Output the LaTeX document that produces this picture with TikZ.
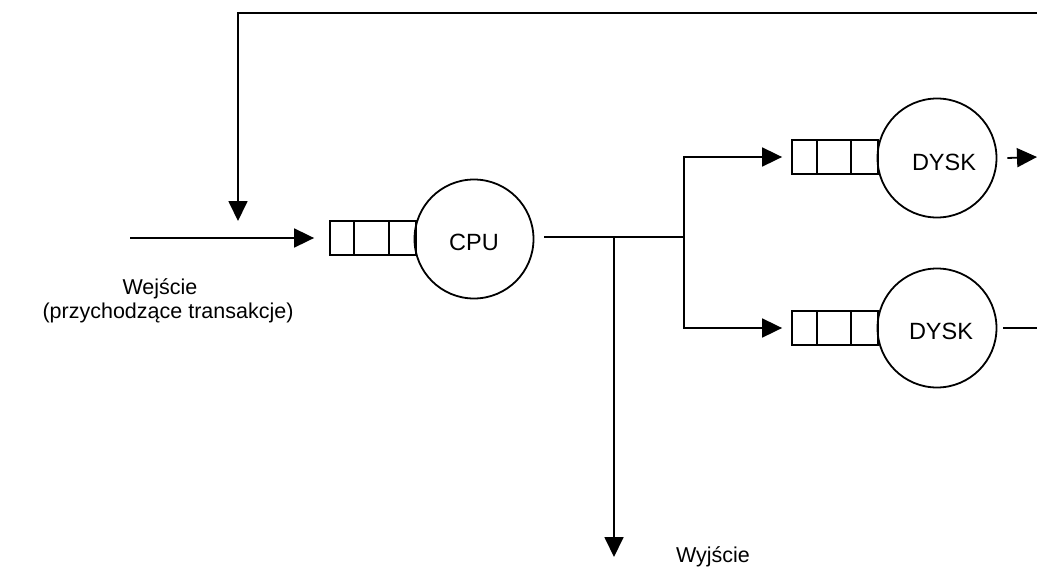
\documentclass[tikz,border=0pt]{standalone}
\usepackage{fontspec}
\setmainfont{Liberation Sans}
\usetikzlibrary{arrows.meta}
\begin{document}
\begin{tikzpicture}[x=1pt,y=-1pt,line width=1.8pt,
  arr/.style={-{Triangle[length=20pt,width=19pt]}},
  server/.style={circle,draw,minimum size=119pt,inner sep=0pt},
  queuebox/.style={draw,minimum width=86pt,minimum height=34pt,inner sep=0pt},
  srvtext/.style={font=\fontsize{23.5}{27}\selectfont,inner sep=0pt},
  lbl/.style={font=\fontsize{21.5}{25}\selectfont,align=center,inner sep=0pt}]
\useasboundingbox (0,0) rectangle (1037,571);
% CPU
\node[queuebox] (qcpu) at (373,238) {};
\draw (354,221) -- (354,255) (389,221) -- (389,255);
\node[server] (cpu) at (474,239) {};
\node[srvtext] (cpul) at (474,242) {CPU};
% disks
\node[queuebox] (qd1) at (835,157) {};
\draw (817,140) -- (817,174) (851,140) -- (851,174);
\node[server] (d1) at (937,158) {};
\node[srvtext] (d1l) at (944,162) {DYSK};
\node[queuebox] (qd2) at (835,328) {};
\draw (817,311) -- (817,345) (851,311) -- (851,345);
\node[server] (d2) at (937,328) {};
\node[srvtext] (d2l) at (941,331) {DYSK};
% coordinates
\coordinate (in) at (130,238);
\coordinate (fbs) at (1037,13);
\coordinate (fbe) at (238,221);
\coordinate (j1) at (614,237);
\coordinate (j2) at (684,237);
\coordinate (out) at (614,557);
\coordinate (o1) at (1037,157);
\coordinate (o2) at (1037,328);
% connectors
\draw[arr,shorten >=15pt] (in) -- (qcpu.west);
\draw[arr] (fbs) -| (fbe);
\draw ([xshift=10pt]cpu.east |- j2) -- (j2);
\draw[arr] (j1) -- (out);
\draw[arr,shorten >=9pt] (j2) |- (qd1.west);
\draw[arr,shorten >=9pt] (j2) |- (qd2.west);
\draw[arr] ([xshift=10pt]d1.east) -- (o1);
\draw ([xshift=6pt]d2.east) -- (o2);
% labels
\node[lbl] (inl1) at (160,289) {Wejście};
\node[lbl] (inl2) at (168,313) {(przychodzące transakcje)};
\node[lbl] (outl) at (713,557) {Wyjście};
\end{tikzpicture}
\end{document}
